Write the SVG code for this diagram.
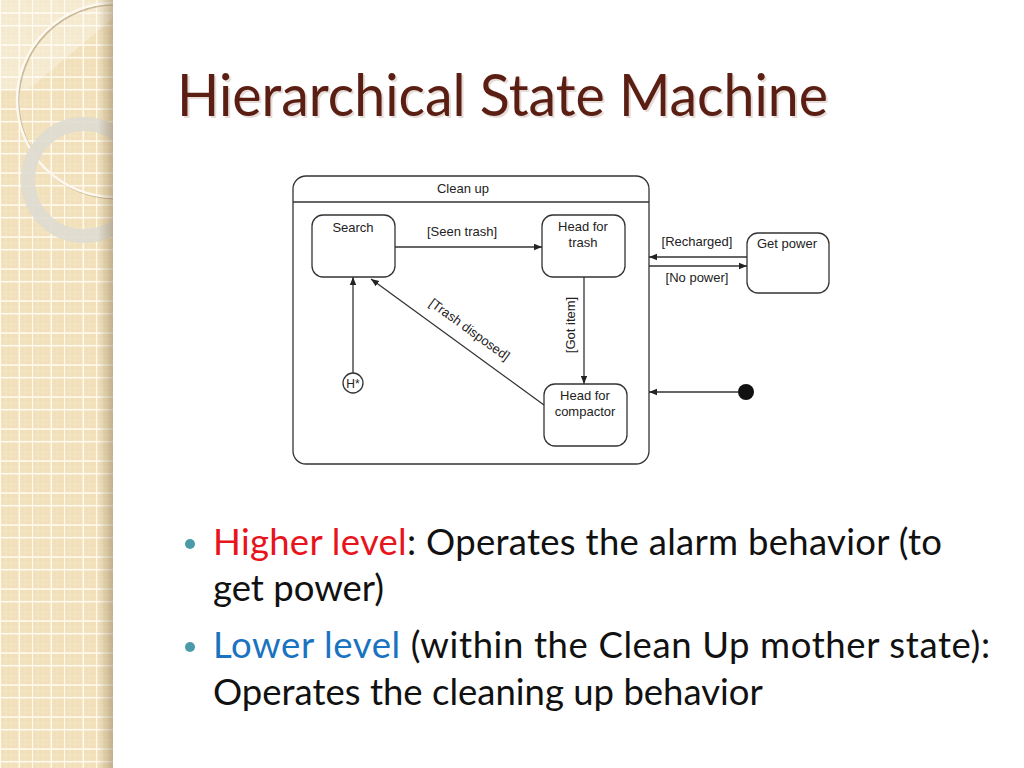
<svg xmlns="http://www.w3.org/2000/svg" width="1024" height="768" viewBox="0 0 1024 768">
  <style>
    .st { fill: #fff; stroke: #333; stroke-width: 1.3; }
    .ln { fill: none; stroke: #333; stroke-width: 1.3; }
    .dl { font-family: "Liberation Sans", Arial, sans-serif; font-size: 13px; fill: #222; text-anchor: middle; }
    .title { font-family: Lato, "Open Sans", sans-serif; font-size: 58px; fill: #5a1f12; }
    .body { font-family: Lato, "Open Sans", sans-serif; font-size: 36.5px; fill: #111; }
  </style>
  <defs>
    <pattern id="grid" patternUnits="userSpaceOnUse" x="0" y="0" width="32" height="32">
      <rect width="32" height="32" fill="#f1e0b9"/>
      <g stroke="#f7ecd4" stroke-width="0.6" opacity="0.8">
        <line x1="6" y1="0" x2="6" y2="32"/><line x1="11" y1="0" x2="11" y2="32"/>
        <line x1="25" y1="0" x2="25" y2="32"/>
        <line x1="0" y1="4" x2="32" y2="4"/><line x1="0" y1="8" x2="32" y2="8"/>
        <line x1="0" y1="19" x2="32" y2="19"/>
      </g>
      <g stroke="#fffaf0" stroke-width="1.6">
        <line x1="0.3" y1="0" x2="0.3" y2="32"/><line x1="19.3" y1="0" x2="19.3" y2="32"/>
        <line x1="0" y1="13" x2="32" y2="13"/><line x1="0" y1="25.7" x2="32" y2="25.7"/>
      </g>
    </pattern>
    <linearGradient id="edge" x1="0" y1="0" x2="1" y2="0">
      <stop offset="0" stop-color="#8a7450" stop-opacity="0"/>
      <stop offset="1" stop-color="#8a7450" stop-opacity="0.45"/>
    </linearGradient>
    <clipPath id="strip"><rect x="0" y="0" width="113" height="768"/></clipPath>
    <marker id="ah" viewBox="0 0 10 10" refX="10" refY="5" markerWidth="8" markerHeight="8" markerUnits="userSpaceOnUse" orient="auto">
      <path d="M0,1 L10,5 L0,9 Z" fill="#222"/>
    </marker>
  </defs>

  <rect width="1024" height="768" fill="#fff"/>

  <!-- decorative left strip -->
  <g id="strip-deco" clip-path="url(#strip)">
    <rect x="0" y="0" width="113" height="768" fill="url(#grid)"/>
    <path d="M0,0 L113,0 L113,18 L28,90 L0,90 Z" fill="#fff" opacity="0.3"/>
    <circle cx="115.5" cy="101.5" r="97" fill="none" stroke="#a88f66" stroke-width="2" opacity="0.55"/>
    <circle cx="114" cy="100" r="97" fill="none" stroke="#fdf9f0" stroke-width="2.5"/>
    <circle cx="84" cy="180" r="56" fill="none" stroke="#dedbd2" stroke-width="14" opacity="0.9"/>
    <rect x="98" y="0" width="15" height="768" fill="url(#edge)"/>
  </g>

  <!-- title -->
  <text class="title" x="179" y="118" fill="#000" opacity="0.15" textLength="651" lengthAdjust="spacingAndGlyphs">Hierarchical State Machine</text>
  <text class="title" x="177" y="116" textLength="651" lengthAdjust="spacingAndGlyphs">Hierarchical State Machine</text>

  <!-- diagram -->
  <g id="clean-up">
    <rect class="st" x="293" y="176" width="356" height="288" rx="13"/>
    <line class="ln" x1="293" y1="202" x2="649" y2="202"/>
    <text class="dl" x="463" y="193">Clean up</text>
  </g>
  <g id="search">
    <rect class="st" x="312" y="215" width="83" height="62" rx="11"/>
    <text class="dl" x="353" y="232">Search</text>
  </g>
  <g id="head-for-trash">
    <rect class="st" x="542" y="215" width="83" height="62" rx="11"/>
    <text class="dl" x="583" y="231">Head for</text>
    <text class="dl" x="583" y="247">trash</text>
  </g>
  <g id="head-for-compactor">
    <rect class="st" x="544" y="384" width="83" height="62" rx="11"/>
    <text class="dl" x="585" y="400">Head for</text>
    <text class="dl" x="585" y="416">compactor</text>
  </g>
  <g id="history">
    <circle class="st" cx="353" cy="383" r="10"/>
    <text class="dl" x="353" y="388" style="font-size:12px">H*</text>
  </g>
  <g id="get-power">
    <rect class="st" x="747" y="233" width="82" height="60" rx="11"/>
    <text class="dl" x="787" y="248">Get power</text>
  </g>
  <g id="initial">
    <circle cx="746" cy="392" r="8" fill="#111"/>
  </g>

  <g id="connectors">
    <line class="ln" x1="395" y1="247" x2="542" y2="247" marker-end="url(#ah)"/>
    <text class="dl" x="462" y="236">[Seen trash]</text>

    <line class="ln" x1="584" y1="277" x2="584" y2="384" marker-end="url(#ah)"/>
    <text class="dl" transform="translate(575,325) rotate(-90)">[Got item]</text>

    <line class="ln" x1="544" y1="405" x2="371" y2="279" marker-end="url(#ah)"/>
    <text class="dl" transform="translate(467,333) rotate(36)">[Trash disposed]</text>

    <line class="ln" x1="353" y1="373" x2="353" y2="277" marker-end="url(#ah)"/>

    <line class="ln" x1="747" y1="257" x2="649" y2="257" marker-end="url(#ah)"/>
    <text class="dl" x="697" y="246">[Recharged]</text>
    <line class="ln" x1="649" y1="266" x2="747" y2="266" marker-end="url(#ah)"/>
    <text class="dl" x="697" y="282">[No power]</text>

    <line class="ln" x1="738" y1="392" x2="649" y2="392" marker-end="url(#ah)"/>
  </g>

  <!-- bullets -->
  <g id="bullets">
    <circle cx="190" cy="544" r="5" fill="#4b9aaa"/>
    <text class="body" x="213" y="555" textLength="729" lengthAdjust="spacing"><tspan fill="#e8141b">Higher level</tspan>: Operates the alarm behavior (to</text>
    <text class="body" x="213" y="601">get power)</text>
    <circle cx="190" cy="647" r="5" fill="#4b9aaa"/>
    <text class="body" x="213" y="658" textLength="777" lengthAdjust="spacing"><tspan fill="#1a73c0">Lower level</tspan> (within the Clean Up mother state):</text>
    <text class="body" x="213" y="705">Operates the cleaning up behavior</text>
  </g>
</svg>
